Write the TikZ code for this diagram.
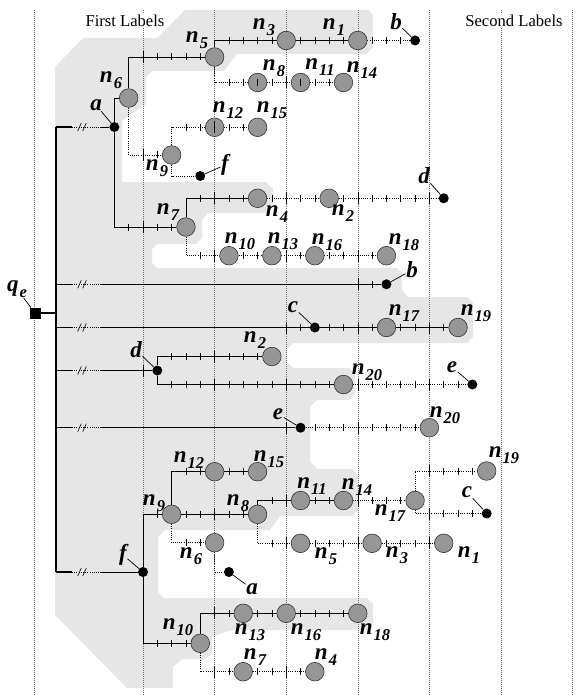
\documentclass[tikz,border=0pt]{standalone}
\usepackage{fontspec}
\setmainfont{Liberation Serif}
\definecolor{shadegray}{RGB}{230,230,230}
\definecolor{nodegray}{RGB}{150,150,150}
\definecolor{gridgray}{RGB}{110,110,110}
\pgfdeclarelayer{bgzero}
\pgfdeclarelayer{bgone}
\pgfsetlayers{bgzero,bgone,main}
\newcommand\nlab[1]{n\hspace{1pt}\raisebox{-5.5pt}{\fontsize{16.5}{16.5}\selectfont #1}}
\newcommand\sticks[2]{\foreach \tkn in {#2}{\draw[tickline] ({143+\tkn*14.32},{#1-3.5}) -- ({143+\tkn*14.32},{#1+3.5});}}
\newcommand\bticks[2]{\foreach \tkn in {#2}{\draw[tickline] ({143+\tkn*14.32},{#1-6}) -- ({143+\tkn*14.32},{#1+6});}}
\begin{document}
\begin{tikzpicture}[x=1pt,y=-1pt,
  edgeS/.style={line width=0.8pt, draw=black},
  edgeD/.style={line width=0.9pt, draw=black, dash pattern=on 0.9pt off 1.3pt},
  trunkS/.style={line width=1.1pt, draw=black},
  tickline/.style={line width=0.6pt, draw=black},
  gridline/.style={line width=0.5pt, draw=gridgray, dash pattern=on 0.5pt off 1.5pt},
  slash/.style={line width=0.6pt, draw=black},
  circ/.style={circle, draw=black!80, line width=0.6pt, fill=nodegray, minimum size=18.6pt, inner sep=0pt},
  blk/.style={circle, fill=black, minimum size=10pt, inner sep=0pt},
  sq/.style={rectangle, fill=black, minimum size=11pt, inner sep=0pt},
  lbl/.style={font=\fontsize{23}{23}\selectfont\bfseries\itshape, inner sep=0.5pt},
  ptr/.style={line width=0.7pt, draw=black},
  head/.style={font=\fontsize{16.6}{16.6}\selectfont, fill=white, inner sep=2pt}]
\useasboundingbox (0,0) rectangle (577,695);

% ---------- nodes ----------
\node[blk] (ta) at (114.36,127) {};
\node[circ] (tn6) at (128.68,98) {};
\node[circ] (tn5) at (214.6,57) {};
\node[circ] (tn3) at (286.2,40.5) {};
\node[circ] (tn1) at (357.8,40.5) {};
\node[blk] (tb) at (415.08,40.5) {};
\node[circ] (tn8) at (257.56,82.5) {};
\node[circ] (tn11) at (300.52,82.5) {};
\node[circ] (tn14) at (343.48,82.5) {};
\node[circ] (tn9) at (171.64,155) {};
\node[circ] (tn12) at (214.6,127.3) {};
\node[circ] (tn15) at (257.56,127.3) {};
\node[blk] (tf) at (200.28,176) {};
\node[circ] (tn7) at (185.96,227) {};
\node[circ] (tn4) at (257.56,198.3) {};
\node[circ] (tn2) at (329.16,198.3) {};
\node[blk] (td) at (443.72,198.3) {};
\node[circ] (tn10) at (228.92,255.7) {};
\node[circ] (tn13) at (271.88,255.7) {};
\node[circ] (tn16) at (314.84,255.7) {};
\node[circ] (tn18) at (386.44,255.7) {};
\node[blk] (rb) at (386.44,284.3) {};
\node[blk] (rc) at (314.84,327.5) {};
\node[circ] (rn17) at (386.44,327.5) {};
\node[circ] (rn19) at (458.04,327.5) {};
\node[blk] (rd) at (157.32,370.5) {};
\node[circ] (rn2) at (271.88,356.5) {};
\node[circ] (rn20) at (343.48,384.5) {};
\node[blk] (re) at (472.36,384.5) {};
\node[blk] (re2) at (300.52,427.7) {};
\node[circ] (rn20b) at (429.4,427.7) {};
\node[blk] (bf) at (143,572) {};
\node[circ] (bn9) at (171.64,514.3) {};
\node[circ] (bn12) at (214.6,471.7) {};
\node[circ] (bn15) at (257.56,471.7) {};
\node[circ] (bn8) at (257.56,514.3) {};
\node[circ] (bn6) at (214.6,542.7) {};
\node[blk] (ba) at (228.92,572) {};
\node[circ] (bn11) at (300.52,500.5) {};
\node[circ] (bn14) at (343.48,500.5) {};
\node[circ] (bn17) at (415.08,500.5) {};
\node[circ] (bn19) at (486.68,471) {};
\node[blk] (bc) at (486.68,513.5) {};
\node[circ] (bn5) at (300.52,543.3) {};
\node[circ] (bn3) at (372.12,543.3) {};
\node[circ] (bn1) at (443.72,543.3) {};
\node[circ] (bn10) at (200.28,643.3) {};
\node[circ] (bn13) at (243.24,613.3) {};
\node[circ] (bn16) at (286.2,613.3) {};
\node[circ] (bn18) at (357.8,613.3) {};
\node[circ] (bn7) at (243.24,671.7) {};
\node[circ] (bn4) at (314.84,671.7) {};
\node[sq] (qe) at (35,313) {};

% ticks drawn through some circles
\sticks{82.5}{8,11}
\bticks{127.3}{5}

% ---------- labels ----------
\node[head] (h1) at (125,20.5) {First Labels};
\node[head] (h2) at (514,20.5) {Second Labels};
\node[lbl] (Lqe) at (17,289) {q\hspace{1pt}\raisebox{-5.5pt}{\fontsize{16.5}{16.5}\selectfont e}};
\node[lbl] (Ltn5) at (197,40) {\nlab{5}};
\node[lbl] (Ltn3) at (264,27) {\nlab{3}};
\node[lbl] (Ltn1) at (334,27) {\nlab{1}};
\node[lbl] (Ltb) at (396,22) {b};
\node[lbl] (Ltn6) at (111,80) {\nlab{6}};
\node[lbl] (Lta) at (96,105) {a};
\node[lbl] (Ltn8) at (274,68) {\nlab{8}};
\node[lbl] (Ltn11) at (320,67) {\nlab{11}};
\node[lbl] (Ltn14) at (362,70) {\nlab{14}};
\node[lbl] (Ltn12) at (228,110) {\nlab{12}};
\node[lbl] (Ltn15) at (272,110) {\nlab{15}};
\node[lbl] (Ltn9) at (157,168) {\nlab{9}};
\node[lbl] (Ltf) at (225,165) {f};
\node[lbl] (Ltn7) at (168,212) {\nlab{7}};
\node[lbl] (Ltn4) at (277,214) {\nlab{4}};
\node[lbl] (Ltn2) at (343,213) {\nlab{2}};
\node[lbl] (Ltd) at (424,176) {d};
\node[lbl] (Ltn10) at (240,241) {\nlab{10}};
\node[lbl] (Ltn13) at (283,241) {\nlab{13}};
\node[lbl] (Ltn16) at (327,242) {\nlab{16}};
\node[lbl] (Ltn18) at (404,242) {\nlab{18}};
\node[lbl] (Lrb) at (412,270) {b};
\node[lbl] (Lrc) at (293,307) {c};
\node[lbl] (Lrn17) at (404,313) {\nlab{17}};
\node[lbl] (Lrn19) at (476,313) {\nlab{19}};
\node[lbl] (Lrd) at (136,350) {d};
\node[lbl] (Lrn2) at (255,340) {\nlab{2}};
\node[lbl] (Lrn20) at (367,372) {\nlab{20}};
\node[lbl] (Lre) at (452,367) {e};
\node[lbl] (Lre2) at (278,414) {e};
\node[lbl] (Lrn20b) at (445,415) {\nlab{20}};
\node[lbl] (Lbf) at (123,555) {f};
\node[lbl] (Lbn9) at (154,503) {\nlab{9}};
\node[lbl] (Lbn12) at (189,460) {\nlab{12}};
\node[lbl] (Lbn15) at (269,459) {\nlab{15}};
\node[lbl] (Lbn8) at (238,503) {\nlab{8}};
\node[lbl] (Lbn6) at (191,556) {\nlab{6}};
\node[lbl] (Lba) at (252,589) {a};
\node[lbl] (Lbn11) at (312,486) {\nlab{11}};
\node[lbl] (Lbn14) at (357,487) {\nlab{14}};
\node[lbl] (Lbn17) at (390,513) {\nlab{17}};
\node[lbl] (Lbn19) at (504,455) {\nlab{19}};
\node[lbl] (Lbc) at (467,492) {c};
\node[lbl] (Lbn5) at (326,556) {\nlab{5}};
\node[lbl] (Lbn3) at (397,555) {\nlab{3}};
\node[lbl] (Lbn1) at (469,555) {\nlab{1}};
\node[lbl] (Lbn10) at (178,627) {\nlab{10}};
\node[lbl] (Lbn13) at (250,632) {\nlab{13}};
\node[lbl] (Lbn16) at (306,632) {\nlab{16}};
\node[lbl] (Lbn18) at (375,632) {\nlab{18}};
\node[lbl] (Lbn7) at (255,657) {\nlab{7}};
\node[lbl] (Lbn4) at (326,657) {\nlab{4}};

\foreach \d in {ta,tb,tf,td,rb,rc,rd,re,re2,bf,ba,bc,qe}{\draw[ptr] (L\d) -- (\d);}

% ---------- background: shaded area and grid ----------
\begin{pgfonlayer}{bgzero}
\fill[fill=shadegray] (55,67) -- (83,38) -- (157,38) -- (185,10) -- (368,10) -- (373,15) -- (373,47) -- (367,54) -- (237,54) -- (224,71) -- (152,71) -- (146,77) -- (146,104) -- (124,119) -- (122,121) -- (122,182) -- (266,182) -- (273,189) -- (273,207) -- (266,213) -- (208,213) -- (202,220) -- (202,238) -- (196,244) -- (157,244) -- (152,249) -- (152,263) -- (157,268) -- (397,268) -- (402,273) -- (402,290) -- (408,297) -- (467,297) -- (473,303) -- (473,337) -- (467,343) -- (293,343) -- (287,350) -- (287,362) -- (293,368) -- (349,368) -- (355,374) -- (355,393) -- (349,400) -- (317,400) -- (310,407) -- (310,462) -- (317,469) -- (352,469) -- (358,475) -- (358,510) -- (352,516) -- (280,516) -- (270,530) -- (165,530) -- (158,537) -- (158,592) -- (164,598) -- (367,598) -- (373,604) -- (373,623) -- (367,630) -- (230,630) -- (212,637) -- (212,654) -- (205,659) -- (182,659) -- (173,667) -- (173,688) -- (127,688) -- (55,615) -- cycle;
\foreach \gx in {34,143,214.6,286.2,357.8,429.4,501,572.6}{\draw[gridline] (\gx,10) -- (\gx,695);}
\end{pgfonlayer}

% ---------- edges and ticks ----------
\begin{pgfonlayer}{bgone}
\coordinate (tr1) at (56,127);
\coordinate (tr6) at (56,572);
\coordinate (trq) at (56,313);
\draw[trunkS] (tr1) -- (tr6);
\draw[trunkS] (qe) -- (trq);
\foreach \i/\yy/\tg in {1/127/ta,2/284.3/rb,3/327.5/rc,4/370.5/rd,5/427.7/re2,6/572/bf}{
  \coordinate (brs\i) at (56,\yy);
  \coordinate (bra\i) at (72,\yy);
  \coordinate (brb\i) at (100,\yy);
  \draw[trunkS] (brs\i) -- (bra\i);
  \draw[edgeD] (bra\i) -- (brb\i);
  \draw[edgeS] (brb\i) -- (\tg);
  \draw[slash] (77.7,\yy+4) -- (81.3,\yy-4);
  \draw[slash] (82.7,\yy+4) -- (86.3,\yy-4);
}
% top tree
\draw[edgeS] (ta) |- (tn6);
\draw[edgeS] (tn6) |- (tn5);
\draw[edgeS] (tn5) |- (tn3);
\draw[edgeS] (tn3) -- (tn1);
\draw[edgeD] (tn1) -- (tb);
\draw[edgeD] (tn5) |- (tn8);
\draw[edgeD] (tn8) -- (tn11);
\draw[edgeD] (tn11) -- (tn14);
\draw[edgeD] (tn6) |- (tn9);
\draw[edgeD] (tn9) |- (tn12);
\draw[edgeD] (tn12) -- (tn15);
\draw[edgeD] (tn9) |- (tf);
\draw[edgeS] (ta) |- (tn7);
\draw[edgeS] (tn7) |- (tn4);
\draw[edgeD] (tn4) -- (tn2);
\draw[edgeD] (tn2) -- (td);
\draw[edgeD] (tn7) |- (tn10);
\draw[edgeD] (tn10) -- (tn13);
\draw[edgeD] (tn13) -- (tn16);
\draw[edgeD] (tn16) -- (tn18);
% middle rows
\draw[edgeS] (rc) -- (rn17);
\draw[edgeS] (rn17) -- (rn19);
\draw[edgeS] (rd) |- (rn2);
\draw[edgeS] (rd) |- (rn20);
\draw[edgeD] (rn20) -- (re);
\draw[edgeD] (re2) -- (rn20b);
% bottom tree
\draw[edgeS] (bf) |- (bn9);
\draw[edgeS] (bn9) |- (bn12);
\draw[edgeS] (bn12) -- (bn15);
\draw[edgeS] (bn9) -- (bn8);
\draw[edgeD] (bn9) |- (bn6);
\draw[edgeD] (bn6) |- (ba);
\draw[edgeS] (bn8) |- (bn11);
\draw[edgeS] (bn11) -- (bn14);
\draw[edgeD] (bn14) -- (bn17);
\draw[edgeD] (bn17) |- (bn19);
\draw[edgeD] (bn17) |- (bc);
\draw[edgeD] (bn8) |- (bn5);
\draw[edgeD] (bn5) -- (bn3);
\draw[edgeD] (bn3) -- (bn1);
\draw[edgeS] (bf) |- (bn10);
\draw[edgeS] (bn10) |- (bn13);
\draw[edgeS] (bn13) -- (bn16);
\draw[edgeS] (bn16) -- (bn18);
\draw[edgeD] (bn10) |- (bn7);
\draw[edgeD] (bn7) -- (bn4);
% ticks
\bticks{57}{0} \sticks{57}{1,2,3,4}
\sticks{40.5}{6,7,8,9,11,12,13,14,16,17,18}
\sticks{82.5}{6,7,9,12,13} \bticks{82.5}{10}
\bticks{155}{0} \sticks{155}{1}
\sticks{127.3}{3,4,6,7}
\bticks{227}{0} \sticks{227}{-1,1,2}
\sticks{198.3}{4,6,7,9,11,12,14,16,17,18,19} \bticks{198.3}{5,10,15,20}
\sticks{255.7}{4,7,8,11,13,14,16} \bticks{255.7}{5,10,15}
\sticks{284.3}{16} \bticks{284.3}{15}
\sticks{327.5}{11,13,14,16,18,19,21} \bticks{327.5}{10,15,20}
\bticks{370.5}{0}
\sticks{356.5}{2,3,4,6,7,8} \bticks{356.5}{5}
\sticks{384.5}{2,3,4,6,7,8,9,11,12,13,16,17,18,19,21,22} \bticks{384.5}{5,10,15,20}
\sticks{427.7}{12,13,14,16,17,18,19} \bticks{427.7}{10,15}
\sticks{514.3}{1,3,4,6,7} \bticks{514.3}{5}
\sticks{471.7}{3,4,6,7}
\sticks{542.7}{3,4}
\sticks{500.5}{9,12,13,16,17,18} \bticks{500.5}{10,15}
\sticks{471}{21,22,23} \bticks{471}{20}
\sticks{513.5}{21,22,23} \bticks{513.5}{20}
\sticks{543.3}{9,12,13,14,17,18,19} \bticks{543.3}{10,15,20}
\sticks{643.3}{1,2,3}
\sticks{613.3}{6,8,9,11,12,13,14} \bticks{613.3}{5}
\sticks{671.7}{6,8,9,11} \bticks{671.7}{5,10}
\end{pgfonlayer}
\end{tikzpicture}
\end{document}
